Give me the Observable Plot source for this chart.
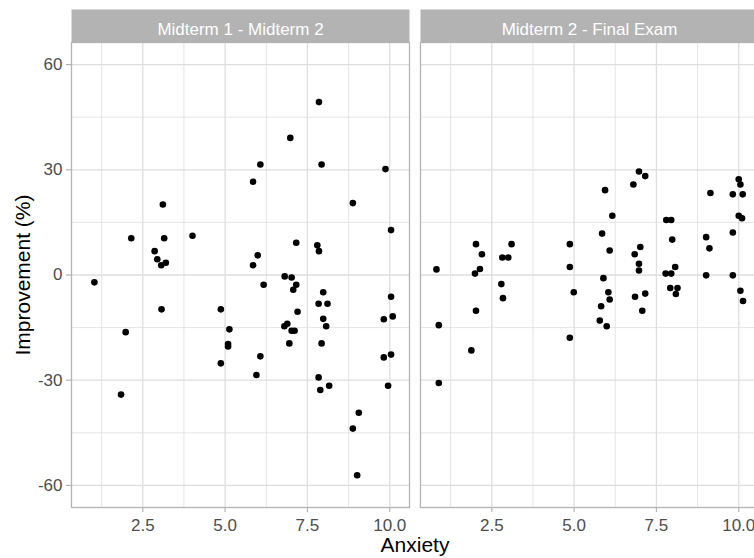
<!DOCTYPE html>
<html>
<head>
<meta charset="utf-8">
<script src="https://cdn.jsdelivr.net/npm/d3@7"></script>
<script src="https://cdn.jsdelivr.net/npm/@observablehq/plot@0.6"></script>
<style>
  html, body { margin: 0; padding: 0; overflow: hidden; background: white; }
  #chart svg { max-width: none !important; height: 558px !important; }
</style>
</head>
<body>
<div id="chart"></div>
<script>
const panels = ["Midterm 1 - Midterm 2", "Midterm 2 - Final Exam"];

const anxiety1 = [7.85, 6.98, 6.07, 7.93, 9.87, 5.85, 3.11, 8.88, 10.04, 2.15, 3.15, 4.01, 7.16, 7.80, 7.85, 2.86, 2.94, 3.20, 3.06, 5.99, 5.85, 6.81, 7.02, 1.03, 6.17, 7.16, 7.07, 7.98, 3.07, 4.87, 7.84, 8.11, 10.04, 7.20, 1.98, 5.13, 5.09, 5.09, 7.98, 8.07, 6.80, 6.89, 7.02, 7.11, 6.95, 7.93, 9.82, 10.09, 4.87, 6.07, 9.82, 10.04, 5.95, 7.84, 7.89, 8.16, 9.95, 1.84, 9.06, 8.88, 9.01];
const improve1 = [49.3, 39.1, 31.5, 31.5, 30.2, 26.6, 20.1, 20.5, 12.8, 10.5, 10.5, 11.2, 9.2, 8.5, 6.8, 6.8, 4.5, 3.5, 2.8, 5.6, 2.8, -0.4, -0.7, -2.1, -2.8, -2.8, -4.2, -4.9, -9.8, -9.8, -8.2, -8.2, -6.2, -10.5, -16.3, -15.5, -19.7, -20.4, -12.5, -14.6, -14.6, -13.9, -15.9, -15.9, -19.5, -19.5, -12.6, -11.8, -25.2, -23.2, -23.5, -22.7, -28.5, -29.2, -32.8, -31.6, -31.6, -34.1, -39.3, -43.8, -57.1];

const anxiety2 = [6.97, 7.16, 6.80, 5.94, 10.00, 10.05, 9.14, 9.82, 10.12, 6.16, 7.80, 7.95, 10.00, 10.10, 5.85, 9.82, 9.01, 9.11, 7.98, 2.02, 4.87, 3.10, 2.20, 2.82, 3.00, 6.08, 7.01, 6.84, 6.97, 6.97, 0.82, 2.14, 1.99, 4.87, 5.89, 7.78, 7.95, 8.07, 9.01, 9.82, 2.79, 2.84, 4.99, 6.04, 6.08, 5.82, 5.78, 5.99, 6.85, 7.16, 7.07, 7.92, 8.14, 8.09, 10.05, 10.13, 2.02, 0.89, 1.88, 0.89, 4.87];
const improve2 = [29.5, 28.2, 25.8, 24.2, 27.3, 25.8, 23.4, 23.0, 23.0, 16.9, 15.7, 15.7, 16.9, 16.2, 11.8, 12.1, 10.8, 7.6, 10.1, 8.8, 8.8, 8.8, 5.9, 5.0, 5.0, 7.0, 8.0, 5.9, 3.2, 1.3, 1.6, 1.7, 0.4, 2.3, -0.9, 0.4, 0.4, 2.3, -0.1, -0.1, -2.6, -6.6, -4.9, -4.9, -7.0, -8.9, -13.0, -14.6, -6.2, -5.3, -10.2, -3.7, -3.7, -5.4, -4.5, -7.4, -10.2, -14.3, -21.5, -30.8, -17.9];

const xTicks = [2.5, 5.0, 7.5, 10.0];
const xTickLabels = ["2.5", "5.0", "7.5", "10.0"];
const xMinor = [1.25, 3.75, 6.25, 8.75];
const yTicks = [-60, -30, 0, 30, 60];
const yTickLabels = ["-60", "-30", "0", "30", "60"];
const yMinor = [-45, -15, 15, 45];
const xTitle = "Anxiety";
const yTitle = "Improvement (%)";

const data = [
  ...anxiety1.map((x, i) => ({panel: panels[0], x, y: improve1[i]})),
  ...anxiety2.map((x, i) => ({panel: panels[1], x, y: improve2[i]}))
];

const W = 758, H = 558, mT = 42, mB = 51, mL = 71, mR = 0;
const frameH = H - mT - mB;
const font = "'Liberation Sans', Arial, sans-serif";
const gridColor = "#dedede";
const borderColor = "#b3b3b3";

const chart = Plot.plot({
  width: W,
  height: H,
  marginLeft: mL,
  marginRight: mR,
  marginTop: mT,
  marginBottom: mB,
  style: {fontFamily: font, background: "white", overflow: "visible", maxWidth: "none"},
  fx: {domain: panels, paddingInner: 11 / 349, paddingOuter: 0, round: false, axis: null, label: null},
  x: {domain: [0.335, 10.6], label: null, axis: null},
  y: {domain: [-66.3, 66.3], label: null, axis: null},
  marks: [
    Plot.gridX(xMinor, {stroke: gridColor, strokeOpacity: 1, strokeWidth: 0.8}),
    Plot.gridY(yMinor, {stroke: gridColor, strokeOpacity: 1, strokeWidth: 0.8}),
    Plot.gridX(xTicks, {stroke: gridColor, strokeOpacity: 1, strokeWidth: 1.3}),
    Plot.gridY(yTicks, {stroke: gridColor, strokeOpacity: 1, strokeWidth: 1.3}),
    Plot.frame({fill: borderColor, stroke: null, insetTop: -33, insetBottom: frameH}),
    Plot.text(panels, {fx: d => d, text: d => d, frameAnchor: "top", dy: -13, lineAnchor: "middle", fill: "white", fontSize: 17}),
    Plot.axisX(xTicks, {tickSize: 5, tickPadding: 6, stroke: borderColor, strokeWidth: 1.2, fill: "#4d4d4d", fontSize: 17, tickFormat: (d, i) => xTickLabels[i], label: null}),
    Plot.axisY(yTicks, {tickSize: 5, tickPadding: 4, stroke: borderColor, strokeWidth: 1.2, fill: "#4d4d4d", fontSize: 17, tickFormat: (d, i) => yTickLabels[i], label: null}),
    Plot.dot(data, {fx: "panel", x: "x", y: "y", r: 3.3, fill: "black", stroke: null}),
    Plot.frame({stroke: borderColor, strokeWidth: 1.3}),
    Plot.text([yTitle], {fx: () => panels[0], text: d => d, frameAnchor: "left", rotate: -90, dx: -47.8, textAnchor: "middle", lineAnchor: "middle", fontSize: 21, fill: "black"}),
    Plot.text([xTitle], {fx: () => panels[0], text: d => d, frameAnchor: "bottom-right", dx: 5.5, dy: 37.3, textAnchor: "middle", lineAnchor: "middle", fontSize: 21, fill: "black"})
  ]
});
document.getElementById("chart").appendChild(chart);
</script>
</body>
</html>
